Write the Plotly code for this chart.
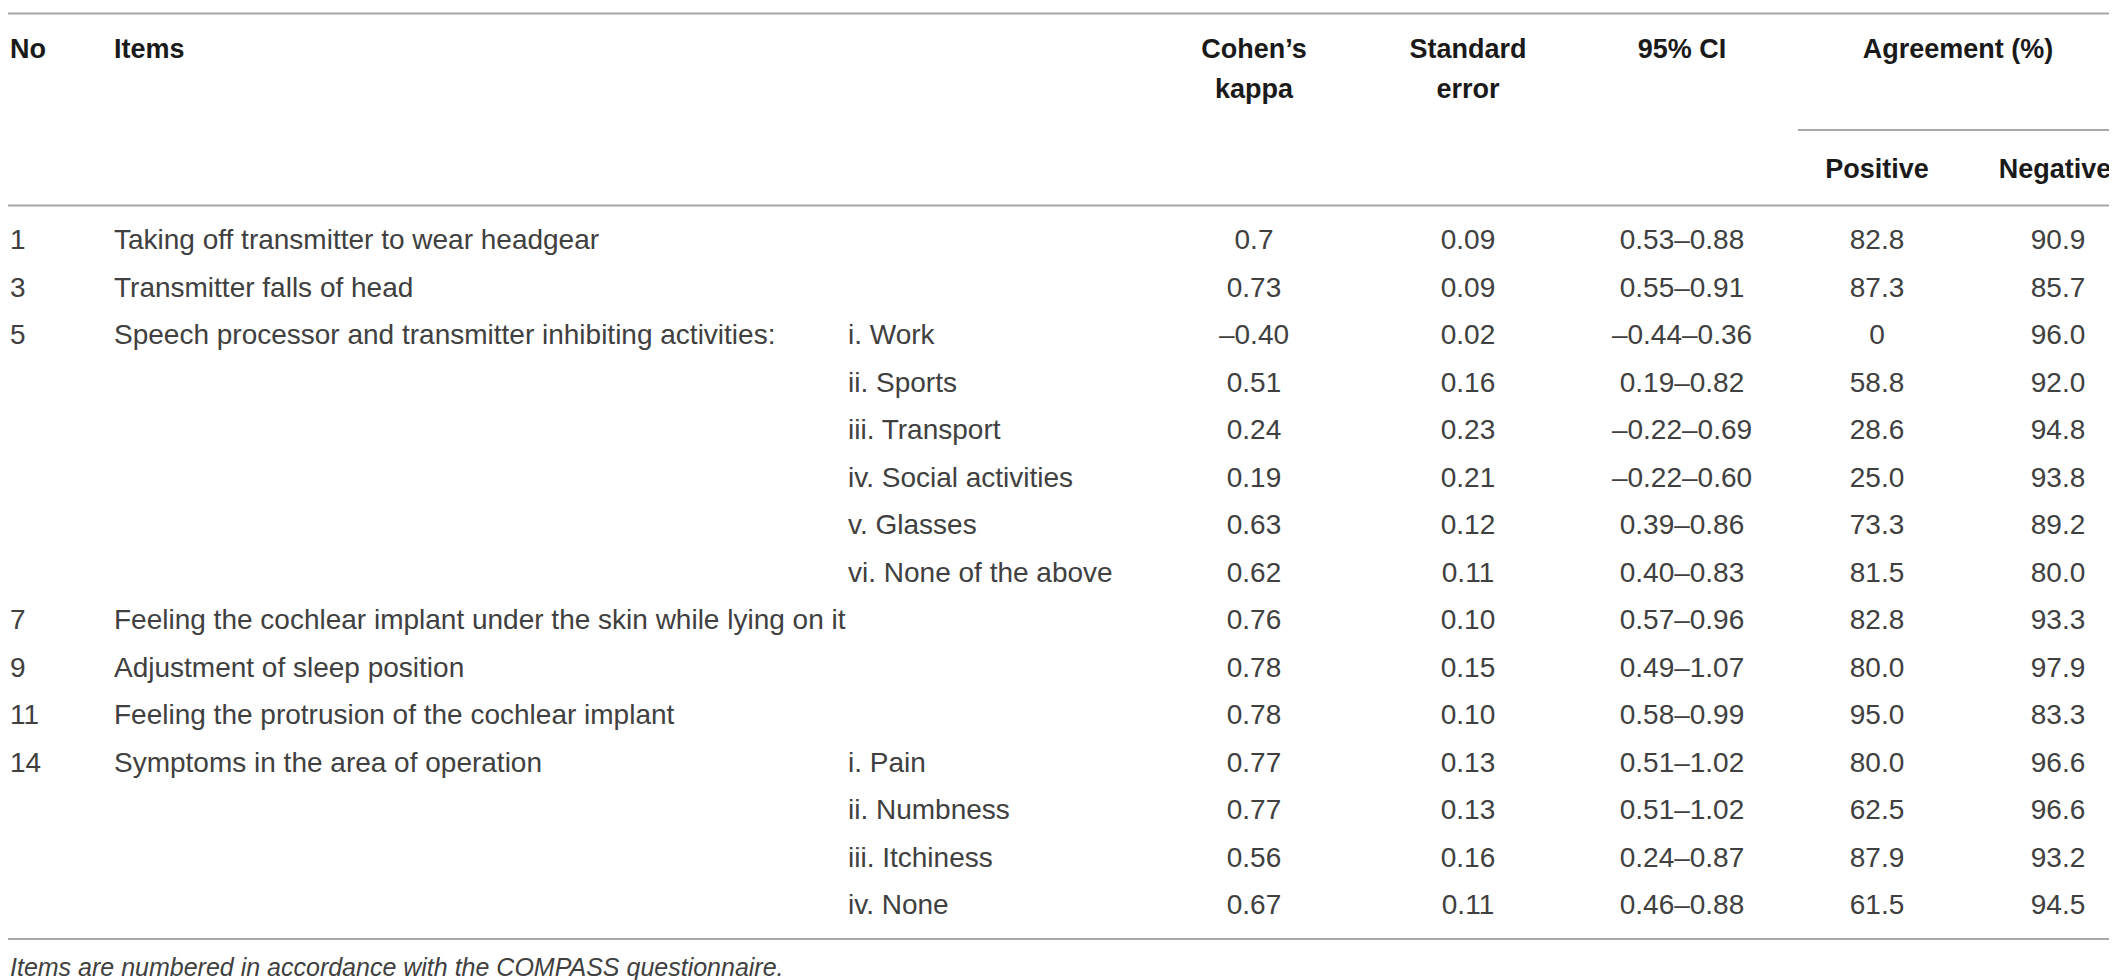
import plotly.graph_objects as go

# Table content
item_no = ["1", "3", "5", "", "", "", "", "", "7", "9", "11", "14", "", "", ""]
items = [
    "Taking off transmitter to wear headgear",
    "Transmitter falls of head",
    "Speech processor and transmitter inhibiting activities:",
    "", "", "", "", "",
    "Feeling the cochlear implant under the skin while lying on it",
    "Adjustment of sleep position",
    "Feeling the protrusion of the cochlear implant",
    "Symptoms in the area of operation",
    "", "", "",
]
sub_items = ["", "", "i. Work", "ii. Sports", "iii. Transport", "iv. Social activities",
             "v. Glasses", "vi. None of the above", "", "", "",
             "i. Pain", "ii. Numbness", "iii. Itchiness", "iv. None"]
kappa = ["0.7", "0.73", "–0.40", "0.51", "0.24", "0.19", "0.63", "0.62",
         "0.76", "0.78", "0.78", "0.77", "0.77", "0.56", "0.67"]
std_error = ["0.09", "0.09", "0.02", "0.16", "0.23", "0.21", "0.12", "0.11",
             "0.10", "0.15", "0.10", "0.13", "0.13", "0.16", "0.11"]
ci95 = ["0.53–0.88", "0.55–0.91", "–0.44–0.36", "0.19–0.82", "–0.22–0.69", "–0.22–0.60",
        "0.39–0.86", "0.40–0.83", "0.57–0.96", "0.49–1.07", "0.58–0.99", "0.51–1.02",
        "0.51–1.02", "0.24–0.87", "0.46–0.88"]
agree_pos = ["82.8", "87.3", "0", "58.8", "28.6", "25.0", "73.3", "81.5",
             "82.8", "80.0", "95.0", "80.0", "62.5", "87.9", "61.5"]
agree_neg = ["90.9", "85.7", "96.0", "92.0", "94.8", "93.8", "89.2", "80.0",
             "93.3", "97.9", "83.3", "96.6", "96.6", "93.2", "94.5"]
footnote = "Items are numbered in accordance with the COMPASS questionnaire."

W, H = 2117, 980
FONT = "Liberation Sans, Arial, sans-serif"
TXT = "#404040"
LINE = "#a8a8a8"
SIZE = 28
HEAD = 27

row_y0, row_h = 234, 47.5
row_y = [row_y0 + i * row_h for i in range(len(kappa))]

fig = go.Figure()

def col(x, texts, pos, bold=False, ys=None):
    ys = ys if ys is not None else row_y
    fig.add_trace(go.Scatter(
        x=[x] * len(texts), y=ys, text=texts, mode="text",
        textposition=pos, hoverinfo="skip", showlegend=False,
        textfont=dict(family=FONT, size=HEAD if bold else SIZE,
                      color="#1a1a1a" if bold else TXT,
                      weight="bold" if bold else "normal"),
    ))

# body
col(2, item_no, "middle right")
col(106, items, "middle right")
col(840, sub_items, "middle right")
col(1246, kappa, "middle center")
col(1460, std_error, "middle center")
col(1674, ci95, "middle center")
col(1869, agree_pos, "middle center")
col(2050, agree_neg, "middle center")

# header
col(2, ["No"], "middle right", True, [43])
col(106, ["Items"], "middle right", True, [43])
col(1246, ["Cohen’s", "kappa"], "middle center", True, [43, 83])
col(1460, ["Standard", "error"], "middle center", True, [43, 83])
col(1674, ["95% CI"], "middle center", True, [43])
col(1950, ["Agreement (%)"], "middle center", True, [43])
col(1869, ["Positive"], "middle center", True, [163])
col(2047, ["Negative"], "middle center", True, [163])

fig.add_trace(go.Scatter(
    x=[2], y=[962], text=[footnote], mode="text", textposition="middle right",
    hoverinfo="skip", showlegend=False,
    textfont=dict(family=FONT, size=25, color=TXT, style="italic"),
))

# rules
for x0, x1, y in [(0, W, 5.5), (1790, W, 122), (0, W, 197.5), (0, W, 931)]:
    fig.add_shape(type="line", x0=x0, x1=x1, y0=y, y1=y, xref="x", yref="y",
                  line=dict(color=LINE, width=2))

fig.update_layout(
    width=W, height=H,
    margin=dict(l=0, r=0, t=0, b=0),
    paper_bgcolor="white", plot_bgcolor="white",
    xaxis=dict(range=[0, W], visible=False, fixedrange=True),
    yaxis=dict(range=[H, 0], visible=False, fixedrange=True),
)

fig.write_html("out.html")
